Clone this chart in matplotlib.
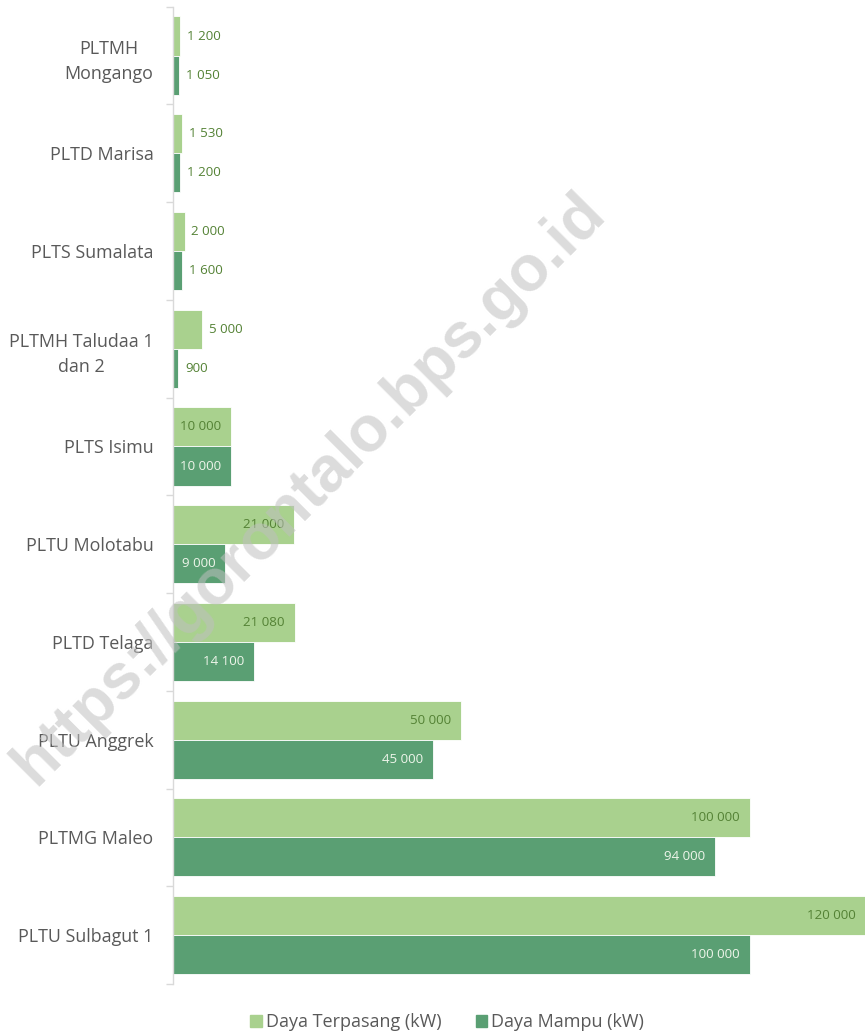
import numpy as np
import matplotlib
matplotlib.use('Agg')
import matplotlib.pyplot as plt
from matplotlib.patches import Patch

# data
plants = ['PLTMH\nMongango', 'PLTD Marisa', 'PLTS Sumalata', 'PLTMH Taludaa 1\ndan 2',
          'PLTS Isimu', 'PLTU Molotabu', 'PLTD Telaga', 'PLTU Anggrek',
          'PLTMG Maleo', 'PLTU Sulbagut 1']
terpasang = [1200, 1530, 2000, 5000, 10000, 21000, 21080, 50000, 100000, 120000]
mampu = [1050, 1200, 1600, 900, 10000, 9000, 14100, 45000, 94000, 100000]
series_names = ['Daya Terpasang (kW)', 'Daya Mampu (kW)']

c_light = '#a9d18e'
c_dark = '#5a9f73'
txt_gray = '#595959'
lbl_green = '#548235'

plt.rcParams['font.family'] = ['Open Sans', 'DejaVu Sans']
num_font = ['Open Sans', 'DejaVu Sans']

fig = plt.figure(figsize=(8.65, 10.35), dpi=100)
ax = fig.add_axes([0.2, 0.0493, 0.8, 0.9442])

y = np.arange(len(plants))
h = 0.4
ax.barh(y - h / 2, terpasang, height=h, color=c_light, edgecolor='white', linewidth=0.6)
ax.barh(y + h / 2, mampu, height=h, color=c_dark, edgecolor='white', linewidth=0.6)

ax.set_xlim(0, 120000)
ax.set_ylim(len(plants) - 0.5, -0.5)


def fmt(v):
    return f'{v:,}'.replace(',', ' ')


# value labels: inside end for wide bars, outside end for narrow ones
for vals, off, inside_col in [(terpasang, -h / 2, lbl_green), (mampu, h / 2, '#eef5ea')]:
    for i, v in enumerate(vals):
        if v >= 9000:
            ax.annotate(fmt(v), (v, i + off), xytext=(-7, 0), textcoords='offset points',
                        ha='right', va='center', fontsize=9.6, color=inside_col, family=num_font)
        else:
            ax.annotate(fmt(v), (v, i + off), xytext=(5, 0), textcoords='offset points',
                        ha='left', va='center', fontsize=9.6, color=lbl_green, family=num_font)

ax.set_yticks(y)
ax.set_yticklabels(plants, fontsize=12.9, color=txt_gray, ha='right', multialignment='center',
                   linespacing=1.5)
ax.set_yticks(np.arange(-0.5, len(plants), 1), minor=True)
ax.tick_params(axis='y', which='major', length=0, pad=14)
ax.tick_params(axis='y', which='minor', length=5, color='#d9d9d9', width=1)
ax.set_xticks([])
for s in ['top', 'right', 'bottom']:
    ax.spines[s].set_visible(False)
ax.spines['left'].set_color('#d9d9d9')
ax.spines['left'].set_linewidth(1)

handles = [Patch(color=c_light, label=series_names[0]), Patch(color=c_dark, label=series_names[1])]
fig.legend(handles=handles, loc='center', bbox_to_anchor=(0.517, 0.0125), ncol=2, frameon=False,
           fontsize=13, labelcolor=txt_gray, handlelength=0.65, handleheight=0.65,
           handletextpad=0.2, columnspacing=1.9)

# watermark
fig.text(0.358, 0.528, 'https://gorontalo.bps.go.id', rotation=45, ha='center', va='center',
         fontsize=46, fontweight='bold', color='#bfbfbf', alpha=0.55,
         family=['Liberation Sans', 'DejaVu Sans'], zorder=10)

fig.savefig('out.png', dpi=100)
